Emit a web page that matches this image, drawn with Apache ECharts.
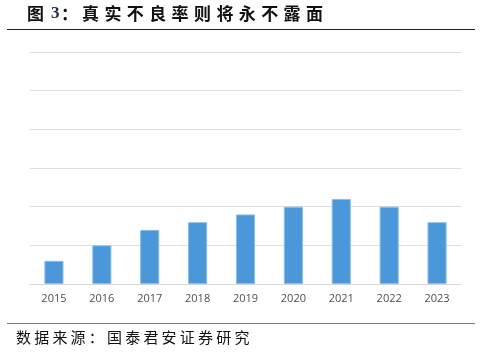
<!DOCTYPE html>
<html><head><meta charset="utf-8">
<script src="https://cdn.jsdelivr.net/npm/echarts@6/dist/echarts.min.js"></script>
<style>html,body{margin:0;padding:0;background:#fff}#c{width:490px;height:355px}</style>
</head><body><div id="c"></div>
<script>
var categories = ['2015','2016','2017','2018','2019','2020','2021','2022','2023'];
var values = [0.6, 1.0, 1.4, 1.6, 1.8, 2.0, 2.2, 2.0, 1.6];
var yMax = 6;
var yInterval = 1;
var titleHead = ['图', '3', '：'];
var titleBody = '真实不良率则将永不露面';
var sourceText = '数据来源：国泰君安证券研究';

var cjk = '"Noto Sans CJK SC", sans-serif';
var graphics = [];
var headX = [27, 51, 61];
titleHead.forEach(function(ch, i){
  graphics.push({type:'text', left: headX[i], top: 5, style:{text: ch, font: 'bold 17px ' + (ch==='3' ? '"Liberation Serif", serif' : cjk), fill: ch==='3' ? '#1f2a44' : '#111'}});
});
titleBody.split('').forEach(function(ch, i){
  graphics.push({type:'text', left: 82 + i*22.4, top: 5, style:{text: ch, font: 'bold 17px ' + cjk, fill:'#111'}});
});
sourceText.split('').forEach(function(ch, i){
  graphics.push({type:'text', left: 16 + i*18.2, top: 330, style:{text: ch, font: '15px ' + cjk, fill:'#111'}});
});
graphics.push({type:'line', shape:{x1:7, y1:29.5, x2:475, y2:29.5}, style:{stroke:'#222', lineWidth:1}});
graphics.push({type:'line', shape:{x1:7, y1:323.5, x2:475, y2:323.5}, style:{stroke:'#777', lineWidth:1.2}});

var chart = echarts.init(document.getElementById('c'));
chart.setOption({
  animation: false,
  graphic: graphics,
  grid: {left: 30, right: 29, top: 52, bottom: 71},
  xAxis: {
    type: 'category', data: categories,
    axisLine: {lineStyle: {color: '#d6d6d6', width: 1}},
    axisTick: {show: false},
    axisLabel: {color: '#4d4d4d', fontSize: 11, margin: 9, fontFamily: '"Open Sans", sans-serif'}
  },
  yAxis: {
    type: 'value', min: 0, max: yMax, interval: yInterval,
    axisLine: {show: false}, axisTick: {show: false}, axisLabel: {show: false},
    splitLine: {lineStyle: {color: '#dedede', width: 1}}
  },
  series: [{
    type: 'bar', data: values, barWidth: '40%',
    itemStyle: {color: '#4A97DA', borderColor: '#8FBFE9', borderWidth: 1}
  }]
});
</script></body></html>
